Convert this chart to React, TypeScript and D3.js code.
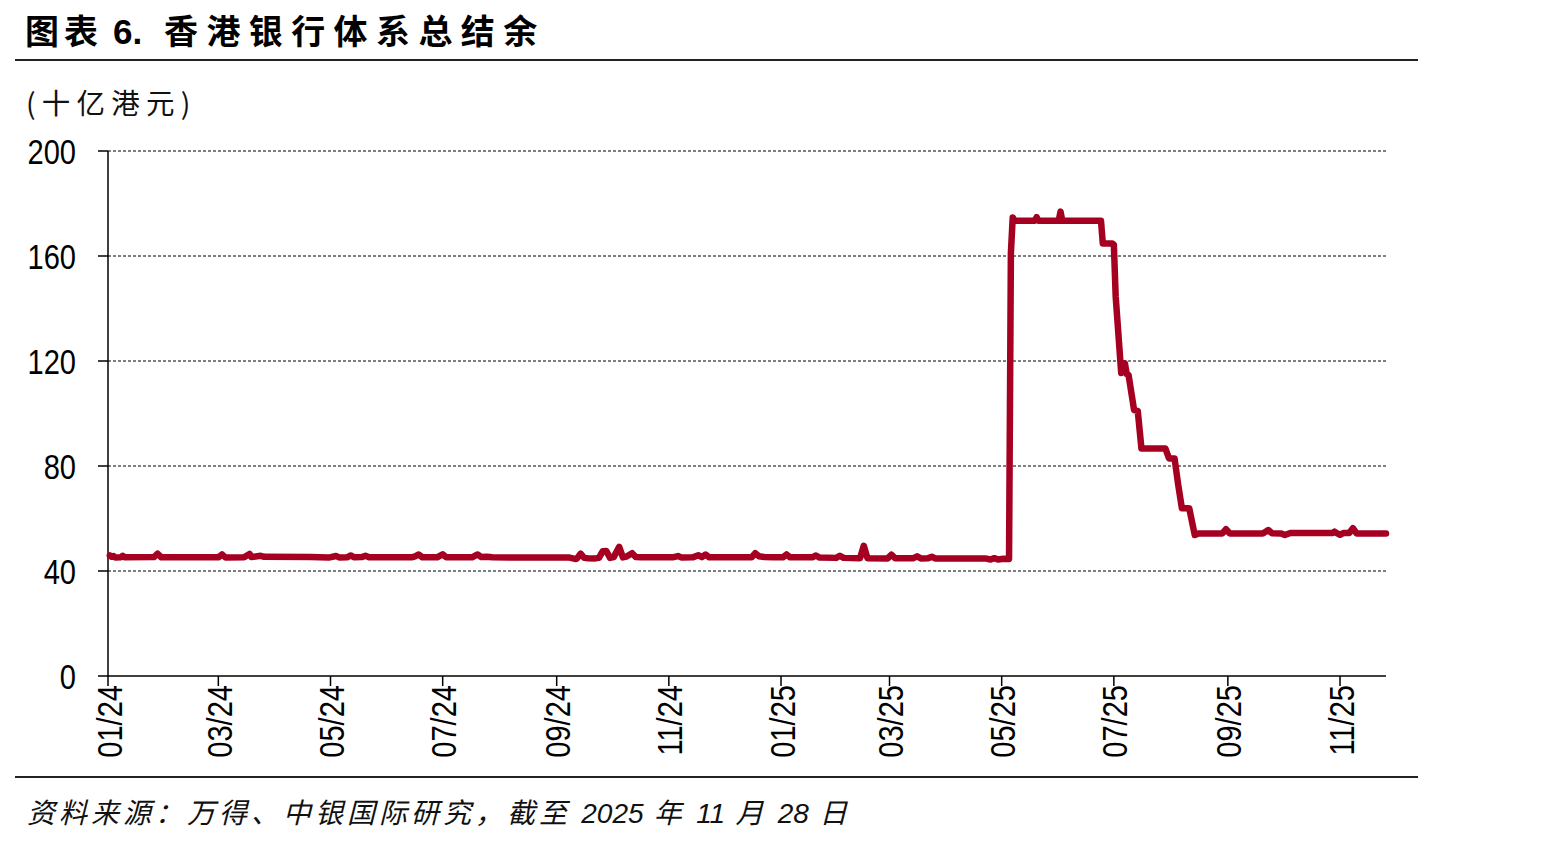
import React from 'react';
import * as d3 from 'd3';

// ---- data (十亿港元) ----
const dates: string[] = [
  '2024-01-02','2024-01-03','2024-01-04','2024-01-05','2024-01-08','2024-01-09','2024-01-10','2024-01-26','2024-01-28','2024-01-30',
  '2024-03-01','2024-03-03','2024-03-05','2024-03-15','2024-03-18','2024-03-19','2024-03-24','2024-03-26','2024-04-20','2024-04-30',
  '2024-05-04','2024-05-06','2024-05-10','2024-05-12','2024-05-14','2024-05-18','2024-05-20','2024-05-22','2024-06-14','2024-06-16',
  '2024-06-18','2024-06-20','2024-06-28','2024-07-01','2024-07-03','2024-07-17','2024-07-20','2024-07-22','2024-07-25','2024-07-28',
  '2024-09-08','2024-09-11','2024-09-12','2024-09-14','2024-09-16','2024-09-18','2024-09-22','2024-09-24','2024-09-26','2024-09-28',
  '2024-09-30','2024-10-02','2024-10-05','2024-10-07','2024-10-09','2024-10-12','2024-10-14','2024-10-17','2024-11-03','2024-11-06',
  '2024-11-08','2024-11-14','2024-11-17','2024-11-19','2024-11-21','2024-11-23','2024-12-16','2024-12-18','2024-12-20','2024-12-23',
  '2024-12-28','2025-01-02','2025-01-04','2025-01-06','2025-01-18','2025-01-20','2025-01-22','2025-01-31','2025-02-02','2025-02-04',
  '2025-02-13','2025-02-15','2025-02-17','2025-02-28','2025-03-02','2025-03-04','2025-03-14','2025-03-16','2025-03-18','2025-03-22',
  '2025-03-24','2025-03-26','2025-04-22','2025-04-25','2025-04-27','2025-04-29','2025-05-02','2025-05-05','2025-05-06','2025-05-07',
  '2025-05-08','2025-05-19','2025-05-20','2025-05-21','2025-06-01','2025-06-02','2025-06-03','2025-06-24','2025-06-25','2025-06-30',
  '2025-07-01','2025-07-02','2025-07-05','2025-07-07','2025-07-08','2025-07-09','2025-07-12','2025-07-14','2025-07-16','2025-07-29',
  '2025-07-31','2025-08-03','2025-08-05','2025-08-07','2025-08-11','2025-08-14','2025-08-16','2025-08-29','2025-08-31','2025-09-02',
  '2025-09-20','2025-09-23','2025-09-25','2025-09-30','2025-10-02','2025-10-05','2025-10-28','2025-10-29','2025-10-30','2025-11-01',
  '2025-11-03','2025-11-06','2025-11-08','2025-11-10','2025-11-26',
];
const values: number[] = [
  45.9,45.4,45.7,45.1,45.2,45.8,45.2,45.3,46.6,45.2,
  45.2,46.3,45.1,45.2,46.5,45.3,45.8,45.4,45.3,45.1,
  45.7,45.1,45.2,45.9,45.2,45.3,45.8,45.2,45.2,45.6,
  46.3,45.2,45.2,46.4,45.2,45.2,46.3,45.3,45.4,45.2,
  45.1,44.6,44.7,46.6,45.0,44.9,44.8,45.0,47.5,47.6,
  45.0,45.3,49.2,45.2,45.5,46.8,45.3,45.2,45.2,45.7,
  45.1,45.2,46.0,45.3,46.3,45.2,45.2,46.8,45.6,45.3,
  45.2,45.2,46.3,45.2,45.2,45.9,45.1,45.0,45.8,45.0,
  44.9,49.6,44.9,44.8,46.2,44.9,44.9,45.6,44.8,44.9,
  45.4,44.8,44.8,44.4,44.9,44.4,44.7,44.6,161.0,174.7,
  173.4,173.4,174.8,173.4,173.4,176.9,173.4,173.4,164.8,164.8,
  164.4,144.5,115.4,119.1,115.0,114.7,101.3,101.0,86.7,86.7,
  82.9,82.9,72.8,63.9,63.9,53.7,54.3,54.3,55.9,54.3,
  54.3,55.6,54.4,54.3,53.7,54.5,54.5,55.0,54.5,53.8,
  54.5,54.5,56.3,54.3,54.3,
];
const yTicks: number[] = [0, 40, 80, 120, 160, 200];
const xTickDates: string[] = ['2024-01-01','2024-03-01','2024-05-01','2024-07-01','2024-09-01','2024-11-01','2025-01-01','2025-03-01','2025-05-01','2025-07-01','2025-09-01','2025-11-01'];
const xTickLabels: string[] = ['01/24','03/24','05/24','07/24','09/24','11/24','01/25','03/25','05/25','07/25','09/25','11/25'];
const xDomain: string[] = ['2024-01-01', '2025-11-26'];

const titleA = '图表';
const titleNum = '6.';
const titleB = '香港银行体系总结余';
const unitLabel = '(十亿港元)';
const footerParts: { t: string; num: boolean }[] = [
  { t: '资料来源：万得、中银国际研究，截至 ', num: false },
  { t: '2025', num: true },
  { t: ' 年 ', num: false },
  { t: '11', num: true },
  { t: ' 月 ', num: false },
  { t: '28', num: true },
  { t: ' 日', num: false },
];

const NUM_FONT = "'Liberation Sans Narrow','Arial Narrow','Liberation Sans',Arial,sans-serif";
const LAT_FONT = "'Liberation Sans',Arial,sans-serif";
const CJK_FONT = "'Noto Sans CJK SC','Noto Sans',sans-serif";
const LINE_COLOR = '#A50021';
const NARROW = 0.83;

export default function App() {
  const W = 1542, H = 842;
  const left = 108, right = 1386, top = 151, bottom = 676;
  const parse = d3.utcParse('%Y-%m-%d');
  const x = d3.scaleUtc().domain(xDomain.map((d) => parse(d) as Date)).range([left, right]);
  const y = d3.scaleLinear().domain([0, 200]).range([bottom, top]);
  const data = dates.map((d, i) => ({ date: parse(d) as Date, value: values[i] }));
  const line = d3.line<{ date: Date; value: number }>().x((d) => x(d.date)).y((d) => y(d.value));

  return (
    <svg width={W} height={H} style={{ position: 'absolute', left: 0, top: 0, display: 'block', background: '#fff' }}>
      {/* title */}
      <text x={25} y={44} fontFamily={CJK_FONT} fontWeight={700} fontSize={34} letterSpacing={5} fill="#000">{titleA}</text>
      <text x={113} y={44} fontFamily={LAT_FONT} fontWeight={700} fontSize={35} fill="#000">{titleNum}</text>
      <text x={164} y={44} fontFamily={CJK_FONT} fontWeight={700} fontSize={34} letterSpacing={8.4} fill="#000">{titleB}</text>
      <line x1={15} x2={1418} y1={60} y2={60} stroke="#222" strokeWidth={2} />

      {/* unit */}
      <text x={26} y={114} fontFamily={CJK_FONT} fontSize={28.5} letterSpacing={6.2} fill="#111">{unitLabel}</text>

      {/* gridlines */}
      {yTicks.filter((t) => t > 0).map((t) => (
        <line key={'g' + t} x1={left} x2={right} y1={y(t)} y2={y(t)} stroke="#000" strokeWidth={1} strokeDasharray="3,2" />
      ))}

      {/* y axis */}
      <line x1={left} x2={left} y1={top} y2={bottom} stroke="#000" strokeWidth={1.5} />
      {yTicks.map((t) => (
        <g key={'y' + t}>
          <line x1={left - 10} x2={left} y1={y(t)} y2={y(t)} stroke="#000" strokeWidth={1.5} />
          <text transform={`translate(76,${y(t)}) scale(${NARROW},1)`} dy="0.36em" textAnchor="end" fontFamily={NUM_FONT} fontSize={35} fill="#000">{t}</text>
        </g>
      ))}

      {/* x axis */}
      <line x1={left} x2={right} y1={bottom} y2={bottom} stroke="#000" strokeWidth={1.5} />
      {xTickDates.map((d, i) => {
        const tx = x(parse(d) as Date);
        return (
          <g key={'x' + d}>
            <line x1={tx} x2={tx} y1={bottom} y2={bottom + 10} stroke="#000" strokeWidth={1.5} />
            <text transform={`translate(${tx + 1},${bottom + 9}) rotate(-90) scale(${NARROW},1)`} dy="0.36em" textAnchor="end" fontFamily={NUM_FONT} fontSize={35} fill="#000">{xTickLabels[i]}</text>
          </g>
        );
      })}

      {/* series */}
      <path d={line(data) || ''} fill="none" stroke={LINE_COLOR} strokeWidth={6.5} strokeLinejoin="round" strokeLinecap="round" />

      {/* footer */}
      <line x1={15} x2={1418} y1={777} y2={777} stroke="#222" strokeWidth={2} />
      <text x={27} y={823} fontSize={28} fontStyle="italic" fill="#111">
        {footerParts.map((p, i) => (
          <tspan key={i} fontFamily={p.num ? LAT_FONT : CJK_FONT} letterSpacing={p.num ? 0 : 4}>{p.t}</tspan>
        ))}
      </text>
    </svg>
  );
}
